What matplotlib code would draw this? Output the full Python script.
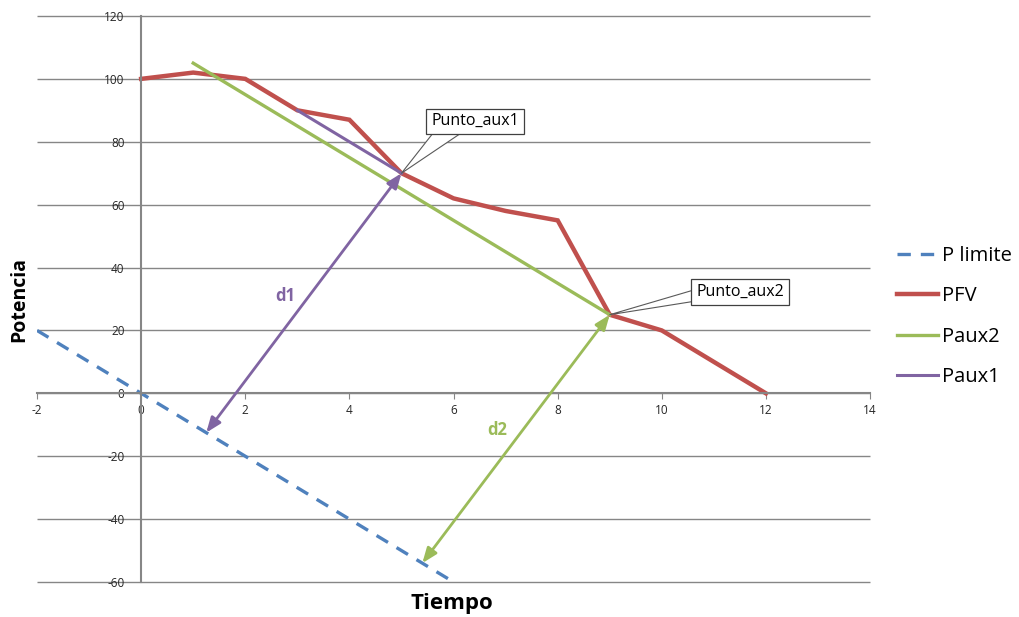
import matplotlib
matplotlib.use("Agg")
import matplotlib.pyplot as plt

plt.rcParams["font.family"] = ["Open Sans", "DejaVu Sans"]
plt.rcParams["axes.unicode_minus"] = False

# series
x_lim = [-2, 6]
p_limite = [20, -60]

x_pfv = [0, 1, 2, 3, 4, 5, 6, 7, 8, 9, 10, 11, 12]
pfv = [100, 102, 100, 90, 87, 70, 62, 58, 55, 25, 20, 10, 0]

x_paux2 = [1, 9]
paux2 = [105, 25]

x_paux1 = [3, 5]
paux1 = [90, 70]

# distance arrows: (start, end)
d1 = ((5, 70), (1.25, -12.5))
d2 = ((9, 25), (5.4, -54))

x_ticks = list(range(-2, 15, 2))
y_ticks = list(range(-60, 121, 20))

BLUE = "#4F81BD"
RED = "#C0504D"
GREEN = "#9BBB59"
PURPLE = "#8064A2"
GRID = "#868686"

fig = plt.figure(figsize=(10.2, 6.17), dpi=100)
ax = fig.add_axes([0.0363, 0.0567, 0.8167, 0.9174])

ax.set_xlim(-2, 14)
ax.set_ylim(-60, 120)

# horizontal gridlines, unclipped so the edge lines are full width
ax.hlines(y_ticks, x_ticks[0], x_ticks[-1], color=GRID, lw=1, clip_on=False,
          zorder=0.5)

ax.plot(x_lim, p_limite, color=BLUE, lw=2.4, ls=(0, (4, 3)), label="P limite")
ax.plot(x_pfv, pfv, color=RED, lw=3.2, label="PFV", solid_joinstyle="miter")
ax.plot(x_paux2, paux2, color=GREEN, lw=2.4, label="Paux2")
ax.plot(x_paux1, paux1, color=PURPLE, lw=2.2, label="Paux1")

for (start, end), col in ((d1, PURPLE), (d2, GREEN)):
    ax.annotate("", xy=end, xytext=start,
                arrowprops=dict(arrowstyle="<|-|>,head_length=0.9,head_width=0.35",
                                color=col, lw=2, shrinkA=0, shrinkB=0),
                zorder=5)

ax.text(2.77, 31, "d1", color=PURPLE, fontsize=12, fontweight="bold",
        ha="center", va="center")
ax.text(6.84, -11.5, "d2", color=GREEN, fontsize=12, fontweight="bold",
        ha="center", va="center")

# callouts: the wedge base sits inside the box (no clipping to the box edge),
# so only its two sides show below it
callout = dict(boxstyle="square,pad=0.3", fc="white", ec="#404040", lw=0.9)
ax.annotate("Punto_aux1", xy=(5, 70), xytext=(6.41, 86.5), fontsize=11.5,
            ha="center", va="center", bbox=callout, zorder=6,
            arrowprops=dict(arrowstyle="wedge,tail_width=1.5", fc="white",
                            ec="#595959", lw=0.8, shrinkA=0, shrinkB=0,
                            patchA=None, relpos=(0.3, 0.5)))
ax.annotate("Punto_aux2", xy=(9, 25), xytext=(11.5, 32.2), fontsize=11.5,
            ha="center", va="center", bbox=callout, zorder=6,
            arrowprops=dict(arrowstyle="wedge,tail_width=0.8", fc="white",
                            ec="#595959", lw=0.8, shrinkA=0, shrinkB=0,
                            patchA=None, relpos=(0.12, 0.45)))

ax.set_xticks(x_ticks)
ax.set_yticks(y_ticks)

for side in ("top", "right"):
    ax.spines[side].set_visible(False)
ax.spines["left"].set_position(("data", 0))
ax.spines["bottom"].set_position(("data", 0))
for side in ("left", "bottom"):
    ax.spines[side].set_color(GRID)
    ax.spines[side].set_linewidth(1.5)

ax.tick_params(axis="x", direction="out", length=4, color=GRID, labelsize=8.5,
               labelcolor="#262626", pad=4)
ax.tick_params(axis="y", direction="out", length=0, labelsize=8.5,
               labelcolor="#262626", pad=12)

fig.text(0.443, 0.022, "Tiempo", fontsize=16, fontweight="bold",
         ha="center", va="center")
fig.text(0.019, 0.514, "Potencia", fontsize=14, fontweight="bold",
         rotation=90, ha="center", va="center")

fig.legend(loc="center left", bbox_to_anchor=(0.862, 0.487), frameon=False,
           fontsize=14.5, handlelength=2.0, handletextpad=0.2, labelspacing=1.0)

fig.savefig("out.png", dpi=100)
